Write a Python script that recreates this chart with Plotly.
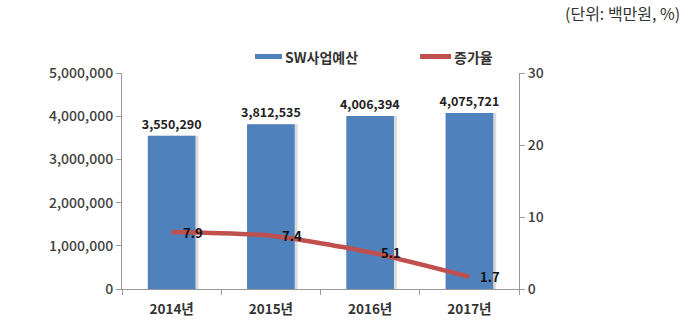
import plotly.graph_objects as go

years = ["2014년", "2015년", "2016년", "2017년"]
budget = [3550290, 3812535, 4006394, 4075721]
growth = [7.9, 7.4, 5.1, 1.7]

FONT = "Noto Sans CJK KR"
BLUE = "#4F81BD"
RED = "#C0504D"

L, R, T, B = 122, 181, 73, 35
PW, PH = 700 - L - R, 324 - T - B


def px(x):
    return (x - L) / PW


def py(y):
    return (324 - B - y) / PH


fig = go.Figure()

# shadow
fig.add_trace(go.Bar(
    x=years, y=budget, width=0.48, offset=-0.21,
    marker=dict(color="rgba(150,150,150,0.35)", line=dict(width=0)),
    showlegend=False, hoverinfo="skip",
))
fig.add_trace(go.Bar(
    x=years, y=budget, name="SW사업예산", width=0.48, offset=-0.24,
    marker=dict(color=BLUE, line=dict(width=0)),
    text=[f"{v:,}" for v in budget], textposition="outside",
    constraintext="none",
    textfont=dict(family=FONT, size=12.5, color="#222222", weight=700),
    cliponaxis=False, showlegend=False,
))
fig.add_trace(go.Scatter(
    x=years, y=growth, name="증가율", yaxis="y2",
    mode="lines",
    line=dict(color=RED, width=4.5, shape="spline", smoothing=0.6),
    cliponaxis=False, showlegend=False,
))

annotations = []
for yr, g in zip(years, growth):
    annotations.append(dict(
        x=yr, y=g, xref="x", yref="y2", text=f"{g}",
        showarrow=False, xshift=21, yshift=0,
        font=dict(family=FONT, size=13, color="#111111", weight=700),
    ))

annotations += [
    dict(text="(단위: 백만원, %)", xref="paper", yref="paper",
         x=px(682), xanchor="right", y=py(13), yanchor="middle",
         showarrow=False, font=dict(family=FONT, size=16, color="#333333")),
    dict(text="SW사업예산", xref="paper", yref="paper",
         x=px(283), xanchor="left", y=py(57), yanchor="middle",
         showarrow=False, font=dict(family=FONT, size=14, color="#333333", weight=700)),
    dict(text="증가율", xref="paper", yref="paper",
         x=px(452), xanchor="left", y=py(57), yanchor="middle",
         showarrow=False, font=dict(family=FONT, size=14, color="#333333", weight=700)),
]

shapes = [
    dict(type="rect", xref="paper", yref="paper",
         x0=px(255), x1=px(282), y0=py(59), y1=py(54),
         fillcolor=BLUE, line=dict(width=0)),
    dict(type="line", xref="paper", yref="paper",
         x0=px(420), x1=px(451), y0=py(56.5), y1=py(56.5),
         line=dict(color=RED, width=5)),
]

tickfont = dict(family=FONT, size=14, color="#404040", weight=500)

fig.update_layout(
    width=700, height=324,
    margin=dict(l=L, r=R, t=T, b=B),
    paper_bgcolor="white", plot_bgcolor="white",
    barmode="overlay",
    font=dict(family=FONT, size=12, color="#404040"),
    showlegend=False,
    annotations=annotations,
    shapes=shapes,
    xaxis=dict(
        showline=True, linecolor="#999999", linewidth=1,
        ticks="outside", ticklen=5, tickcolor="#999999",
        tickson="boundaries", ticklabelstandoff=8, automargin=False,
        tickfont=dict(family=FONT, size=13.5, color="#333333", weight=700),
    ),
    yaxis=dict(
        range=[0, 5000000], dtick=1000000, tickformat=",",
        showgrid=False, zeroline=False, automargin=False,
        showline=True, linecolor="#999999", linewidth=1,
        ticks="outside", ticklen=5, tickcolor="#999999",
        tickfont=tickfont,
    ),
    yaxis2=dict(
        overlaying="y", side="right", range=[0, 30], dtick=10,
        showgrid=False, zeroline=False, automargin=False,
        showline=True, linecolor="#999999", linewidth=1,
        ticks="outside", ticklen=5, tickcolor="#999999",
        tickfont=tickfont,
    ),
)

fig.write_html("out.html")
